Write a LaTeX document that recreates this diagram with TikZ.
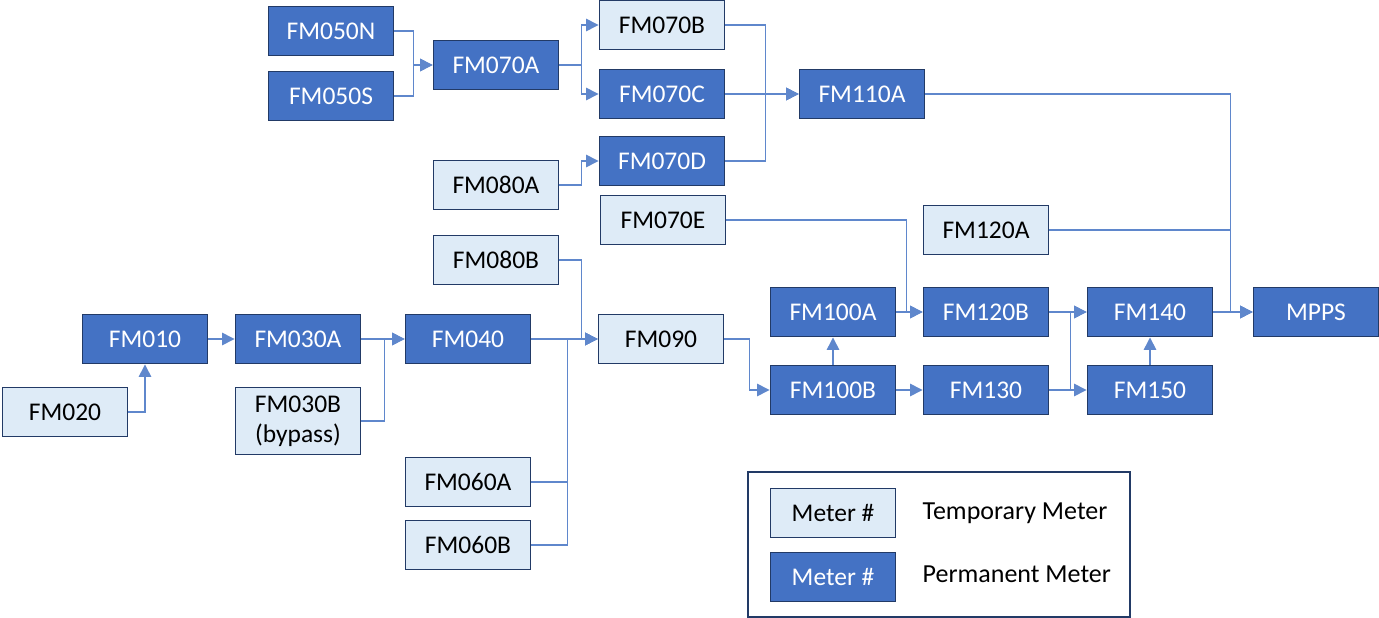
\documentclass[tikz,border=0pt]{standalone}
\usepackage{fontspec}
\setmainfont{Carlito}
\usetikzlibrary{arrows.meta,positioning}
\definecolor{permfill}{HTML}{4472C4}
\definecolor{tempfill}{HTML}{DEEBF7}
\definecolor{meteredge}{HTML}{223A66}
\definecolor{flowline}{HTML}{5F87CC}

\begin{document}
\begin{tikzpicture}[x=0.02cm,y=-0.02cm,>={Triangle[length=2.5mm,width=2.5mm]},
		meter/.style={rectangle,draw=meteredge,line width=1.1pt,minimum width=2.5cm,minimum height=0.98cm,inner sep=0pt,font=\fontsize{14.5}{17}\selectfont},
		perm/.style={meter,fill=permfill,text=white},
		temp/.style={meter,fill=tempfill,text=black},
		flow/.style={draw=flowline,line width=0.8pt,->}]
		\useasboundingbox (0,0) rectangle (1379,618);
		
		% upper branch
		\node[perm] (fm050n) at (331,31)  {FM050N};
		\node[perm] (fm050s) at (331,96)  {FM050S};
		\node[perm] (fm070a) at (496,65)  {FM070A};
		\node[temp] (fm070b) at (662,25)  {FM070B};
		\node[perm] (fm070c) at (662,94)  {FM070C};
		\node[perm] (fm070d) at (662,161) {FM070D};
		\node[temp] (fm080a) at (496,185) {FM080A};
		\node[perm] (fm110a) at (862,94)  {FM110A};
		\node[temp] (fm070e) at (663,220) {FM070E};
		\node[temp] (fm120a) at (986,230) {FM120A};
		\node[temp] (fm080b) at (496,260) {FM080B};
		
		% main line
		\node[perm] (fm010)  at (145,339) {FM010};
		\node[temp] (fm020)  at (65,412)  {FM020};
		\node[perm] (fm030a) at (298,339) {FM030A};
		\node[temp,minimum height=1.34cm,align=center] (fm030b) at (298,421) {FM030B\\(bypass)};
		\node[perm] (fm040)  at (468,339) {FM040};
		\node[temp] (fm060a) at (468,482) {FM060A};
		\node[temp] (fm060b) at (468,545) {FM060B};
		\node[temp] (fm090)  at (661,339) {FM090};
		\node[perm] (fm100a) at (833,312) {FM100A};
		\node[perm] (fm100b) at (833,390) {FM100B};
		\node[perm] (fm120b) at (986,312) {FM120B};
		\node[perm] (fm130)  at (986,390) {FM130};
		\node[perm] (fm140)  at (1150,312) {FM140};
		\node[perm] (fm150)  at (1150,390) {FM150};
		\node[perm] (mpps)   at (1316,312) {MPPS};
		
		% legend
		\node[draw=meteredge,line width=1.1pt,minimum width=7.64cm,minimum height=2.9cm] (legend) at (939,544.5) {};
		\node[temp] (keytemp) at (833,513) {Meter \#};
		\node[perm] (keyperm) at (833,577) {Meter \#};
		\node[font=\fontsize{14.8}{17}\selectfont,right=0.4cm of keytemp.east,yshift=0pt] (txttemp) {Temporary Meter};
		\node[font=\fontsize{14.8}{17}\selectfont,right=0.4cm of keyperm.east,yshift=1.5pt] (txtperm) {Permanent Meter};
		
		% flows
		\draw[flow] (fm050n.east) -- ++(19,0) |- (fm070a.west);
		\draw[flow] (fm050s.east) -- ++(19,0) |- (fm070a.west);
		\draw[flow] (fm070a.east) -- ++(22,0) |- (fm070b.west);
		\draw[flow] (fm070a.east) -- ++(22,0) |- (fm070c.west);
		\draw[flow] (fm080a.east) -- ++(22,0) |- (fm070d.west);
		\draw[flow] (fm070b.east) -- ++(40,0) |- (fm110a.west);
		\draw[flow] (fm070d.east) -- ++(40,0) |- (fm110a.west);
		\draw[flow] (fm070c) -- (fm110a);
		\draw[flow] (fm110a.east) -- ++(305,0) |- (mpps.west);
		\draw[flow] (fm120a.east) -- ++(181,0) |- (mpps.west);
		\draw[flow] (fm140) -- (mpps);
		\draw[flow] (fm070e.east) -- ++(180,0) |- (fm120b.west);
		\draw[flow] (fm100a) -- (fm120b);
		\draw[flow] (fm080b.east) -- ++(22,0) |- (fm090.west);
		\draw[flow] (fm040) -- (fm090);
		\draw[flow] (fm060a.east) -- ++(36,0) |- (fm090.west);
		\draw[flow] (fm060b.east) -- ++(36,0) |- (fm090.west);
		\draw[flow] (fm010) -- (fm030a);
		\draw[flow] (fm020.east) -| (fm010.south);
		\draw[flow] (fm030a) -- (fm040);
		\draw[flow] (fm030b.east) -- ++(23,0) |- (fm040.west);
		\draw[flow] (fm090.east) -- ++(25,0) |- (fm100b.west);
		\draw[flow] (fm100b) -- (fm100a);
		\draw[flow] (fm100b) -- (fm130);
		\draw[flow] (fm120b) -- (fm140);
		\draw[flow] (fm130.east) -- ++(21,0) |- (fm140.west);
		\draw[flow] (fm130) -- (fm150);
		\draw[flow] (fm150) -- (fm140);
\end{tikzpicture}
\end{document}
